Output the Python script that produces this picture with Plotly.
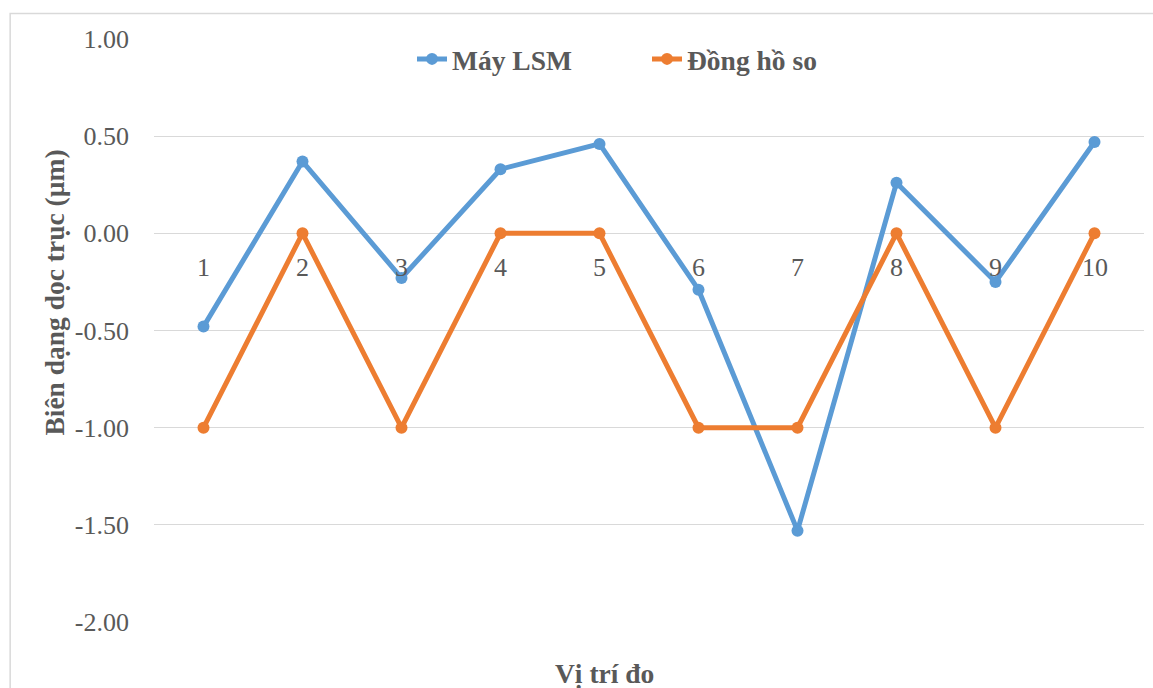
import plotly.graph_objects as go

# Measurement positions and axial profile readings (µm)
positions = [1, 2, 3, 4, 5, 6, 7, 8, 9, 10]
lsm_values = [-0.48, 0.37, -0.23, 0.33, 0.46, -0.29, -1.53, 0.26, -0.25, 0.47]
dial_values = [-1.00, 0.00, -1.00, 0.00, 0.00, -1.00, -1.00, 0.00, -1.00, 0.00]
series_names = ["Máy LSM", "Đồng hồ so"]
y_ticks = [1.0, 0.5, 0.0, -0.5, -1.0, -1.5, -2.0]

BLUE = "#5B9BD5"
ORANGE = "#ED7D31"
TEXT = "#595959"
GRID = "#D9D9D9"
SERIF = "Liberation Serif"

W, H = 1153, 688
L, R, T, B = 153.5, 8.5, 39, 66
pw, ph = W - L - R, H - T - B

fig = go.Figure()
for name, vals, col in [(series_names[0], lsm_values, BLUE),
                        (series_names[1], dial_values, ORANGE)]:
    fig.add_trace(go.Scatter(
        x=positions, y=vals, name=name, mode="lines+markers",
        line=dict(color=col, width=5),
        marker=dict(color=col, size=12),
    ))

# category labels sit on the zero line, as in a crossing axis
for p in positions:
    fig.add_annotation(x=p, y=0, xref="x", yref="y", text=str(p),
                       showarrow=False, yanchor="middle", yshift=-34,
                       font=dict(family=SERIF, size=26, color=TEXT))

fig.add_annotation(text="<b>Biên dạng dọc trục (µm)</b>", textangle=-90,
                   xref="paper", yref="paper",
                   x=(53 - L) / pw, y=(H - B - 293) / ph,
                   xanchor="center", yanchor="middle", showarrow=False,
                   font=dict(family=SERIF, size=27.5, color=TEXT))
fig.add_annotation(text="<b>Vị trí đo</b>",
                   xref="paper", yref="paper",
                   x=(604 - L) / pw, y=(H - B - 673) / ph,
                   xanchor="center", yanchor="middle", showarrow=False,
                   font=dict(family=SERIF, size=27.5, color=TEXT))

# chart-area frame
fig.add_shape(type="rect", xref="paper", yref="paper",
              x0=(9.5 - L) / pw, x1=(W + 5 - L) / pw,
              y0=(H - B - (H + 5)) / ph, y1=(H - B - 13.5) / ph,
              line=dict(color="#D9D9D9", width=1.5), layer="below")

fig.update_layout(
    width=W, height=H,
    margin=dict(l=L, r=R, t=T, b=B),
    paper_bgcolor="white", plot_bgcolor="white",
    showlegend=True,
    legend=dict(orientation="h", x=(647 - L) / pw, xanchor="center",
                y=(H - B - 59) / ph, yanchor="middle",
                font=dict(family=SERIF, size=27.5, color=TEXT,
                          weight="bold"),
                entrywidth=190, entrywidthmode="pixels",
                bgcolor="rgba(0,0,0,0)"),
    xaxis=dict(range=[0.5, 10.5], showticklabels=False, showgrid=False,
               zeroline=False, showline=False, ticks=""),
    yaxis=dict(range=[-2.0, 1.0], tickvals=y_ticks,
               ticktext=[f"{v:.2f}" for v in y_ticks],
               showgrid=True, gridcolor=GRID, gridwidth=1.3,
               zeroline=False, showline=False, ticks="",
               ticklabelstandoff=24,
               tickfont=dict(family=SERIF, size=26, color=TEXT)),
)

fig.write_html("out.html")
